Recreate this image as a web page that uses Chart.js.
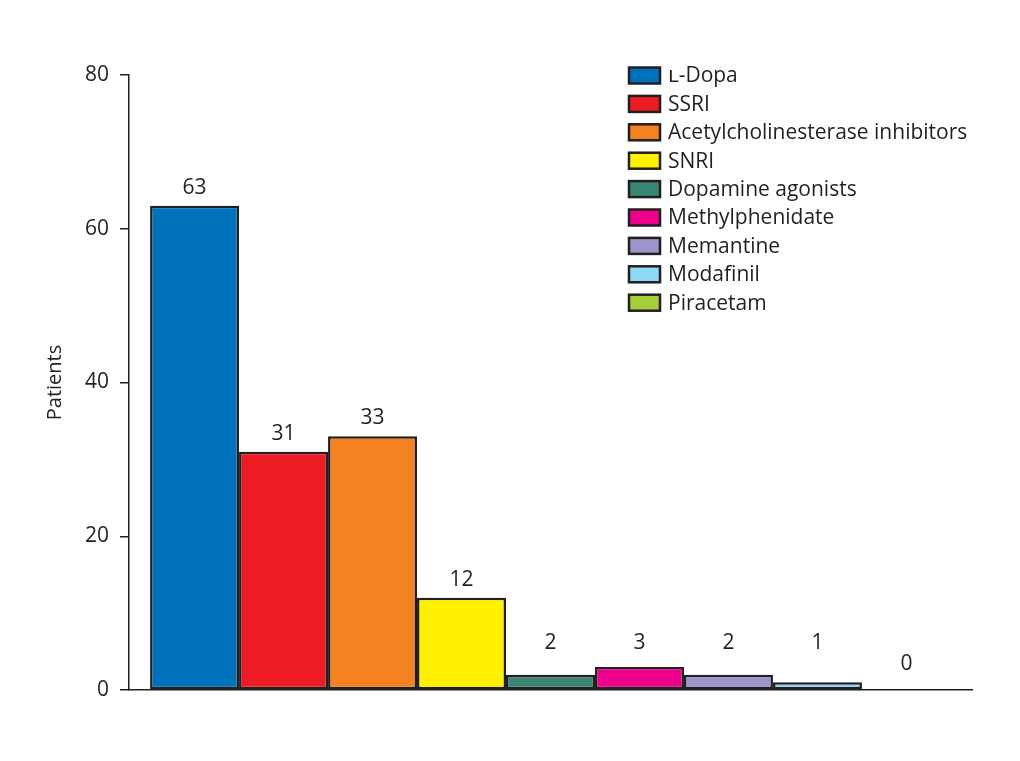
<!DOCTYPE html>
<html>
<head>
<meta charset="utf-8">
<script src="https://cdn.jsdelivr.net/npm/chart.js@4/dist/chart.umd.min.js"></script>
<style>
  html, body { margin: 0; padding: 0; background: #fff; }
  #wrap { width: 1020px; height: 761px; }
</style>
</head>
<body>
<div id="wrap"><canvas id="my-canvas" width="1020" height="761"></canvas></div>
<script>
// drug groups and patient counts
const drugs = ["\u029F-Dopa", "SSRI", "Acetylcholinesterase inhibitors", "SNRI", "Dopamine agonists",
  "Methylphenidate", "Memantine", "Modafinil", "Piracetam"]
const patients = [63, 31, 33, 12, 2, 3, 2, 1, 0]
const colores = ["#0072bc", "#ed1c24", "#f58220", "#fff200", "#3b8574", "#ec008c", "#9b95c9", "#8ed8f8", "#a6ce39"]
const yTicks = [0, 20, 40, 60, 80]

const ink = "#231f20"
const fuente = "'Open Sans', 'DejaVu Sans', sans-serif"

// numbers above bars
const etiquetas = {
  id: "etiquetas",
  afterDatasetsDraw(chart) {
    const ctx = chart.ctx
    const y = chart.scales.y
    ctx.save()
    ctx.font = "21px " + fuente
    ctx.fillStyle = ink
    ctx.textAlign = "center"
    ctx.textBaseline = "alphabetic"
    chart.data.datasets.forEach((ds, i) => {
      const bar = chart.getDatasetMeta(i).data[0]
      const v = ds.data[0]
      let py
      if (v === 0) py = y.getPixelForValue(2.6)
      else py = Math.min(bar.y - 12, y.getPixelForValue(5.3))
      ctx.fillText(String(v), bar.x, py)
    })
    ctx.restore()
  }
}

// legend at top right
const leyenda = {
  id: "leyenda",
  afterDraw(chart) {
    const ctx = chart.ctx
    ctx.save()
    ctx.font = "21px " + fuente
    ctx.textBaseline = "middle"
    chart.data.datasets.forEach((ds, i) => {
      const cy = 75.5 + i * 28.4
      ctx.fillStyle = ds.backgroundColor
      ctx.fillRect(629, cy - 8, 31, 16)
      ctx.strokeStyle = ink
      ctx.lineWidth = 2.5
      ctx.strokeRect(629, cy - 8, 31, 16)
      ctx.fillStyle = ink
      ctx.fillText(ds.label, 668, cy + 1)
    })
    ctx.restore()
  }
}

const datasets = drugs.map((d, i) => ({
  label: d,
  data: [patients[i]],
  backgroundColor: colores[i],
  borderColor: ink,
  borderWidth: 2.5,
  borderSkipped: false,
  categoryPercentage: 0.95,
  barPercentage: 1
}))

const ctx = document.getElementById("my-canvas").getContext("2d")
new Chart(ctx, {
  type: "bar",
  data: { labels: [""], datasets: datasets },
  options: {
    responsive: false,
    devicePixelRatio: 1,
    animation: false,
    layout: { padding: { top: 75, right: 48, bottom: 71, left: 0 } },
    plugins: { legend: { display: false }, tooltip: { enabled: false } },
    scales: {
      x: {
        grid: { display: false },
        ticks: { display: false },
        border: { color: ink, width: 1.5 },
        afterFit(s) { s.height = 0 }
      },
      y: {
        min: 0,
        max: 80,
        afterBuildTicks(s) { s.ticks = yTicks.map(v => ({ value: v })) },
        grid: { drawOnChartArea: false, tickLength: 9, tickColor: ink, lineWidth: 1.5 },
        border: { color: ink, width: 1.5 },
        ticks: { color: ink, padding: 11, font: { size: 21, family: fuente } },
        title: { display: true, text: "Patients", color: ink, padding: { top: 43, bottom: 0 },
          font: { size: 20, family: fuente } },
        afterFit(s) { s.width = 129 }
      }
    }
  },
  plugins: [etiquetas, leyenda]
})
</script>
</body>
</html>
